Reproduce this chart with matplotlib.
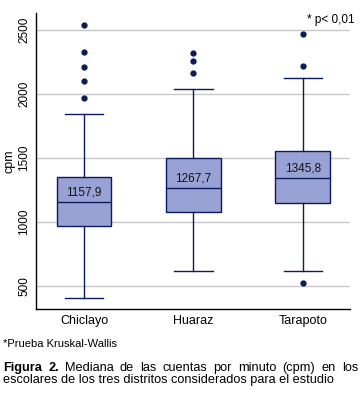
import matplotlib
matplotlib.use('Agg')
import matplotlib.pyplot as plt

plt.rcParams['font.family'] = ['Liberation Sans', 'DejaVu Sans']

# === Data ===
districts = ['Chiclayo', 'Huaraz', 'Tarapoto']
medians = [1157.9, 1267.7, 1345.8]
q1 = [967, 1079, 1147]
q3 = [1350, 1499, 1554]
whis_lo = [406, 615, 615]
whis_hi = [1843, 2038, 2124]
outliers = [[2536, 2325, 2207, 2098, 1965],
            [2322, 2260, 2166],
            [2469, 2221, 521]]
yticks = [500, 1000, 1500, 2000, 2500]

box_face = '#99A2D5'
navy = '#0B1A5A'

stats = []
for i in range(len(districts)):
    stats.append({'med': medians[i], 'q1': q1[i], 'q3': q3[i],
                  'whislo': whis_lo[i], 'whishi': whis_hi[i],
                  'fliers': outliers[i], 'label': districts[i]})

fig = plt.figure(figsize=(3.62, 3.98), dpi=100)
ax = fig.add_axes([0.0994, 0.2229, 0.867, 0.7437])

ax.bxp(stats, positions=[1, 2, 3], widths=0.5, patch_artist=True,
       boxprops=dict(facecolor=box_face, edgecolor=navy, linewidth=1.0),
       medianprops=dict(color=navy, linewidth=1.0),
       whiskerprops=dict(color=navy, linewidth=1.0),
       capprops=dict(color=navy, linewidth=1.0),
       capwidths=0.35,
       flierprops=dict(marker='o', markersize=3.5, markerfacecolor=navy,
                       markeredgecolor=navy))

for i, m in enumerate(medians):
    ax.annotate(f'{m:.1f}'.replace('.', ','), (i + 1, m), xytext=(0, 2),
                textcoords='offset points', ha='center', va='bottom',
                fontsize=8.5, color='#111111')

ax.set_xlim(0.56, 3.43)
ax.set_ylim(318, 2630)
ax.set_yticks(yticks)
ax.set_yticklabels([str(t) for t in yticks], rotation=90, va='center',
                   fontsize=8.5)
ax.set_xticks([1, 2, 3])
ax.set_xticklabels(districts, fontsize=9)
ax.tick_params(length=0, pad=4)
ax.grid(axis='y', color='#C8C8C8', linewidth=1.0)
ax.set_axisbelow(True)
ax.spines['top'].set_visible(False)
ax.spines['right'].set_visible(False)
ax.spines['left'].set_linewidth(1.0)
ax.spines['bottom'].set_linewidth(1.0)
ax.set_ylabel('cpm', fontsize=9, labelpad=2)

fig.text(307 / 362, 1 - 20 / 398, '* p< 0,01', fontsize=8.5, va='center',
         ha='left')
fig.text(3 / 362, 1 - 344 / 398, '*Prueba Kruskal-Wallis', fontsize=8,
         va='center', ha='left')

# === Caption, first line justified ===
line1 = [('Figura', 'bold'), ('2.', 'bold'), ('Mediana', 'normal'),
         ('de', 'normal'), ('las', 'normal'), ('cuentas', 'normal'),
         ('por', 'normal'), ('minuto', 'normal'), ('(cpm)', 'normal'),
         ('en', 'normal'), ('los', 'normal')]
x_left, x_right = 3 / 362, 358 / 362
y1 = 1 - 368 / 398
fig.canvas.draw()
renderer = fig.canvas.get_renderer()
texts = []
for w, weight in line1:
    t = fig.text(0, y1, w, fontsize=9.2, fontweight=weight, va='center',
                 ha='left')
    texts.append(t)
widths = [t.get_window_extent(renderer).width / fig.bbox.width for t in texts]
gap = (x_right - x_left - sum(widths)) / (len(texts) - 1)
x = x_left
for t, w in zip(texts, widths):
    t.set_x(x)
    x += w + gap

fig.text(x_left, 1 - 380 / 398,
         'escolares de los tres distritos considerados para el estudio',
         fontsize=9.2, va='center', ha='left')

fig.savefig('out.png', dpi=100)
